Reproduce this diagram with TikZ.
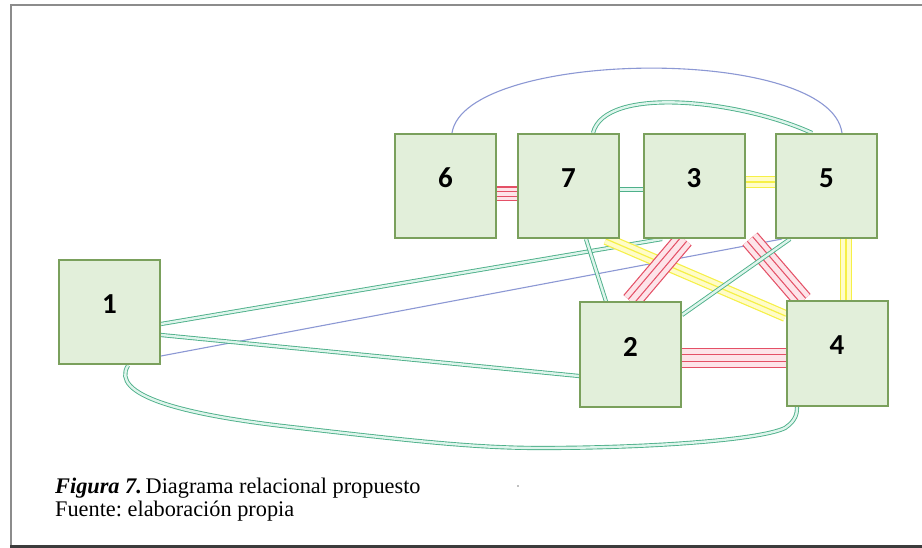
\documentclass[tikz,border=0pt]{standalone}
\usepackage{fontspec}
\setmainfont{Liberation Serif}
\newfontfamily\boxfont{Carlito}
\usetikzlibrary{backgrounds}

\definecolor{boxfill}{RGB}{226,239,218}
\definecolor{boxdraw}{RGB}{122,160,92}
\definecolor{gline}{RGB}{78,176,138}
\definecolor{gcore}{RGB}{222,245,236}
\definecolor{rline}{RGB}{228,80,102}
\definecolor{rcore}{RGB}{253,228,233}
\definecolor{yline}{RGB}{246,240,70}
\definecolor{ycore}{RGB}{255,252,200}
\definecolor{bline}{RGB}{140,152,212}
\definecolor{frametop}{RGB}{140,140,140}
\definecolor{framebot}{RGB}{60,60,60}

\tikzset{
  box/.style={draw=boxdraw, line width=2pt, fill=boxfill,
    minimum width=101pt, minimum height=104pt, inner sep=0pt},
  numlab/.style={font=\boxfont\bfseries\fontsize{29}{29}\selectfont, yshift=8pt},
  gdouble/.style={draw=gline, line width=0.9pt, double=gcore, double distance=2.4pt},
  bluelink/.style={draw=bline, line width=1.1pt},
  rquad/.style={draw=rline, line width=15pt,
    postaction={draw=rcore, line width=12.6pt},
    postaction={draw=rline, line width=6pt},
    postaction={draw=rcore, line width=3.6pt}},
  rquadwide/.style={draw=rline, line width=20pt,
    postaction={draw=rcore, line width=17.6pt},
    postaction={draw=rline, line width=8pt},
    postaction={draw=rcore, line width=5.6pt}},
  ytriple/.style={draw=yline, line width=12pt,
    postaction={draw=ycore, line width=9.6pt},
    postaction={draw=yline, line width=1.2pt}},
  caption/.style={anchor=base west, inner sep=0pt,
    font=\fontsize{22.3}{24}\selectfont\frenchspacing}
}

\begin{document}
\begin{tikzpicture}[x=1pt, y=-1pt]
\useasboundingbox (0,0) rectangle (922,548);

% entities
\node[box, label={[numlab]center:6}] (b6) at (445.5,186) {};
\node[box, label={[numlab]center:7}] (b7) at (568.5,186) {};
\node[box, label={[numlab]center:3}] (b3) at (694,186) {};
\node[box, label={[numlab]center:5}] (b5) at (826.5,186) {};
\node[box, label={[numlab]center:2}] (b2) at (630.5,354.5) {};
\node[box, label={[numlab]center:4}] (b4) at (837,353.5) {};
\node[box, label={[numlab]center:1}] (b1) at (109.5,312.5) {};

\begin{scope}[on background layer]
  % page and frame
  \fill[white] (0,0) rectangle (922,548);
  \draw[frametop, line width=2pt] (922,5.5) -- (11,5.5) -- (11,545);
  \draw[framebot, line width=3pt] (10,546.5) -- (922,546.5);

  % arcs over the top row
  \draw[bluelink] ([xshift=6.5pt]b6.north) .. controls (465,49) and (830,44) .. ([xshift=15.5pt]b5.north);
  \draw[gdouble] ([xshift=24.5pt]b7.north) .. controls (605,85) and (740,100) .. ([xshift=-14.5pt]b5.north);

  % links within the top row
  \draw[rquad] ([yshift=-8pt]b6.east) -- ([yshift=-8pt]b7.west);
  \draw[gdouble] ([yshift=-3.5pt]b7.east) -- ([yshift=-3.5pt]b3.west);
  \draw[ytriple] ([yshift=4pt]b3.east) -- ([yshift=4pt]b5.west);

  % links from box 1
  \draw[gdouble] ([yshift=-11.5pt]b1.east) -- ([xshift=-32pt]b3.south);
  \draw[bluelink] ([yshift=-43.5pt]b1.east) -- ([xshift=-44.5pt]b5.south);
  \draw[gdouble] ([yshift=-22.5pt]b1.east) -- ([yshift=-21.5pt]b2.west);
  \draw[gdouble] ([xshift=18.5pt]b1.south) .. controls (110,395) and (180,415) .. (300,428)
     .. controls (420,442) and (480,448) .. (540,448)
     .. controls (650,448) and (760,440) .. (785,428)
     .. controls (797,420) and (797,412) .. ([xshift=-40pt]b4.south);

  % links down to boxes 2 and 4
  \draw[ytriple] ([xshift=37.5pt]b7.south) -- ([yshift=37.5pt]b4.west);
  \draw[gdouble] ([xshift=17.5pt]b7.south) -- ([xshift=-24.5pt]b2.north);
  \draw[rquadwide] ([xshift=-10pt]b3.south) -- ([xshift=0.5pt]b2.north);
  \draw[rquadwide] ([xshift=56pt]b3.south) -- ([xshift=-34pt]b4.north);
  \draw[gdouble] ([xshift=-36.5pt]b5.south) -- ([yshift=39.5pt]b2.east);
  \draw[ytriple] ([xshift=19.5pt]b5.south) -- ([xshift=9pt]b4.north);
  \draw[rquadwide] ([yshift=-3.5pt]b2.east) -- ([yshift=-4.5pt]b4.west);
\end{scope}

% caption
\node[caption] (capA) at (55,493) {\textbf{\textit{Figura 7.}}\,Diagrama relacional propuesto};
\node[caption] (capB) at (55,516) {Fuente: elaboración propia};
\fill[gray] (518,486) circle (0.8);
\end{tikzpicture}
\end{document}
